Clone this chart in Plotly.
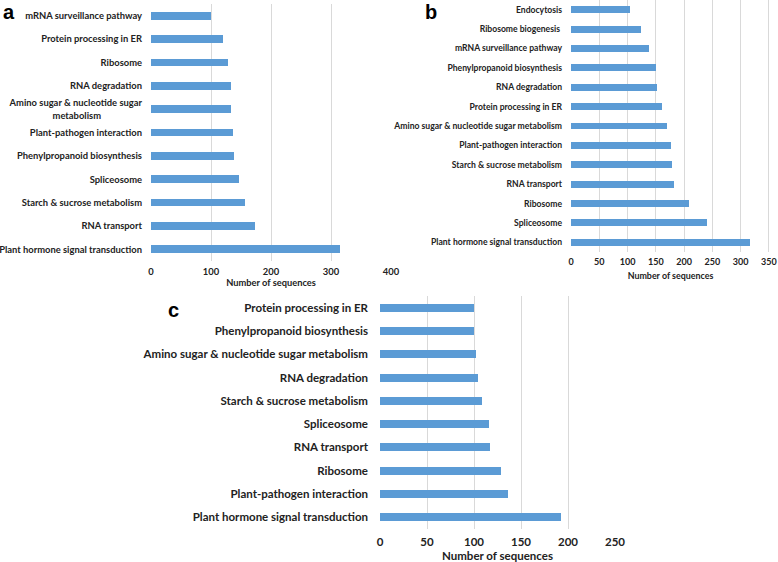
import plotly.graph_objects as go

# Panel a (top to bottom)
cats_a = ['mRNA surveillance pathway', 'Protein processing in ER', 'Ribosome', 'RNA degradation',
          'Amino sugar & nucleotide sugar<br>metabolism' + '\u00a0' * 18,
          'Plant-pathogen interaction', 'Phenylpropanoid biosynthesis', 'Spliceosome',
          'Starch & sucrose metabolism', 'RNA transport', 'Plant hormone signal transduction']
vals_a = [100, 120, 129, 134, 134, 137, 139, 146, 157, 174, 315]

# Panel b
cats_b = ['Endocytosis', 'Ribosome biogenesis\u00a0', 'mRNA surveillance pathway', 'Phenylpropanoid biosynthesis',
          'RNA degradation', 'Protein processing in ER', 'Amino sugar & nucleotide sugar metabolism',
          'Plant-pathogen interaction', 'Starch & sucrose metabolism', 'RNA transport', 'Ribosome',
          'Spliceosome', 'Plant hormone signal transduction']
vals_b = [105, 124, 138, 150, 152, 161, 169, 176, 178, 183, 208, 240, 316]

# Panel c
cats_c = ['Protein processing in ER', 'Phenylpropanoid biosynthesis', 'Amino sugar & nucleotide sugar metabolism',
          'RNA degradation', 'Starch & sucrose metabolism', 'Spliceosome', 'RNA transport', 'Ribosome',
          'Plant-pathogen interaction', 'Plant hormone signal transduction']
vals_c = [100, 100, 102, 104, 108, 116, 117, 129, 136, 193]

W, H = 778, 562
BLUE = '#5B9BD5'
GRID = '#D9D9D9'
FONT = 'Lato'

fig = go.Figure()
fig.add_trace(go.Bar(x=vals_a, y=cats_a, orientation='h', width=0.33,
                     marker=dict(color=BLUE, line=dict(width=0)), xaxis='x', yaxis='y'))
fig.add_trace(go.Bar(x=vals_b, y=cats_b, orientation='h', width=0.36,
                     marker=dict(color=BLUE, line=dict(width=0)), xaxis='x2', yaxis='y2'))
fig.add_trace(go.Bar(x=vals_c, y=cats_c, orientation='h', width=0.34,
                     marker=dict(color=BLUE, line=dict(width=0)), xaxis='x3', yaxis='y3'))


def px_x(p):
    return p / W


def px_y(p):
    return 1 - p / H


def font(size):
    return dict(family=FONT, size=size, color='#222222', weight='bold')


xcommon = dict(showgrid=True, gridcolor=GRID, gridwidth=1, zeroline=False, showline=False,
               ticks='', fixedrange=True, automargin=False, ticklabeloverflow='allow')
ycommon = dict(autorange='reversed', showgrid=False, zeroline=False, showline=False,
               ticks='', type='category', fixedrange=True, automargin=False)

fig.update_layout(
    width=W, height=H,
    margin=dict(l=0, r=0, t=0, b=0),
    paper_bgcolor='white', plot_bgcolor='white',
    showlegend=False,
    bargap=0,
    xaxis=dict(xcommon, domain=[px_x(151), px_x(391)], range=[0, 400], dtick=100, anchor='y',
               tickfont=font(9.4), ticklabelstandoff=4,
               title=dict(text='Number of sequences', font=font(9.3), standoff=2)),
    yaxis=dict(ycommon, domain=[px_y(261), px_y(4)], anchor='x', tickfont=font(9.4), ticklabelstandoff=8),
    xaxis2=dict(xcommon, domain=[px_x(571), px_x(770)], range=[0, 352], tickvals=[0, 50, 100, 150, 200, 250, 300, 350],
                anchor='y2', tickfont=font(9), ticklabelstandoff=3,
                title=dict(text='Number of sequences', font=font(8.9), standoff=6)),
    yaxis2=dict(ycommon, domain=[px_y(252), px_y(0)], anchor='x2', tickfont=font(8.6), ticklabelstandoff=8),
    xaxis3=dict(xcommon, domain=[px_x(380), px_x(615)], range=[0, 250], dtick=50, anchor='y3',
                tickfont=font(11.5), ticklabelstandoff=4,
                title=dict(text='Number of sequences', font=font(11.5), standoff=5)),
    yaxis3=dict(ycommon, domain=[px_y(529), px_y(296)], anchor='x3', tickfont=font(11.5), ticklabelstandoff=11),
)

letters = [('a', 9, 0), ('b', 431, 0), ('c', 173, 298)]
for txt, lx, ly in letters:
    fig.add_annotation(text=txt, x=px_x(lx), y=px_y(ly), xref='paper', yref='paper',
                       showarrow=False, xanchor='center', yanchor='top', borderpad=0,
                       font=dict(family='Liberation Sans', size=20, color='black', weight='bold'))

# page body has a default 8px margin; drop it so the figure sits at the window corner
fig.write_html('out.html', config={'displayModeBar': False},
               post_script="document.body.style.margin='0';")
